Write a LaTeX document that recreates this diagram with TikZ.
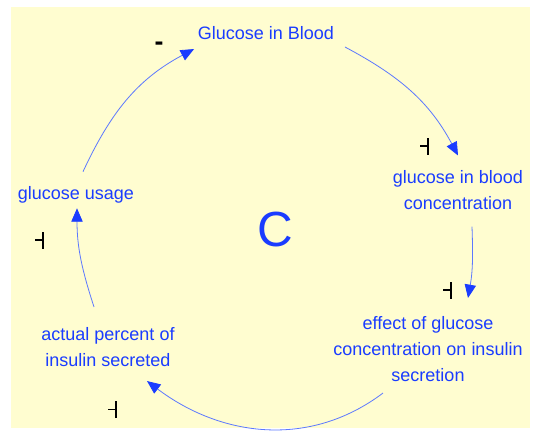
\documentclass[tikz,border=0pt]{standalone}
\usepackage{fontspec}
\setmainfont{Liberation Sans}
\usetikzlibrary{positioning,arrows.meta}
\definecolor{cldBlue}{HTML}{1A3CFF}
\definecolor{cldBlueL}{HTML}{5C78FF}
\definecolor{cldYellow}{HTML}{FFFDD0}

\begin{document}
\begin{tikzpicture}[x=0.75pt, y=0.75pt,
  every node/.style={font=\fontsize{13.5}{19.5}\selectfont, align=center},
  var/.style={text=cldBlue, inner sep=2pt},
  link/.style={draw=cldBlueL, line width=0.6pt,
    -{Triangle[length=10pt, width=8.5pt, color=cldBlue]}},
  polmark/.pic={\draw[black, line width=1.2pt] (-8,0) -- (0,0) (0,-8.5) -- (0,8.5);}
]
 \useasboundingbox (0,0) rectangle (536,-432);
 \fill[cldYellow] (11,-7) rectangle (530,-428);

 % Variables round the loop
 \node[var] (gib) at (266,-33.5)  {Glucose in Blood};
 \node[var] (gbc) at (458,-190)   {glucose in blood\\concentration};
 \node[var] (eff) at (428,-349.5) {effect of glucose\\concentration on insulin\\secretion};
 \node[var] (aps) at (108,-347.5) {actual percent of\\insulin secreted};
 \node[var] (gu)  at (76,-195)    {glucose usage};

 % Loop label
 \node[var, font=\fontsize{37}{37}\selectfont] (loop) at (275,-230) {C};

 % Links (clockwise)
 \draw[link] ([shift={(8,-13.5)}]gib.east) to[out=-28, in=118] ([shift={(0,12)}]gbc.north);
 \draw[link] ([shift={(14,-14)}]gbc.south) to[out=-88, in=80] ([shift={(40,16)}]eff.north);
 \draw[link] ([shift={(-45,-8)}]eff.south) to[out=-143, in=-37] ([shift={(39,-11)}]aps.south);
 \draw[link] ([shift={(-14,18)}]aps.north) to[out=108, in=-90] ([shift={(1,-2)}]gu.south);
 \draw[link] ([shift={(7,12)}]gu.north) to[out=65, in=-152] ([shift={(-1,-6)}]gib.south west);

 % Polarity marks
 \pic (m1) at (428,-146)   {polmark};
 \pic (m2) at (451,-290)   {polmark};
 \pic (m3) at (116,-409.5) {polmark};
 \pic (m4) at (43,-240)    {polmark};
 \node[text=black, font=\fontsize{20}{20}\bfseries\selectfont, inner sep=0pt] (sgn) at (159,-46) {-};
\end{tikzpicture}
\end{document}
